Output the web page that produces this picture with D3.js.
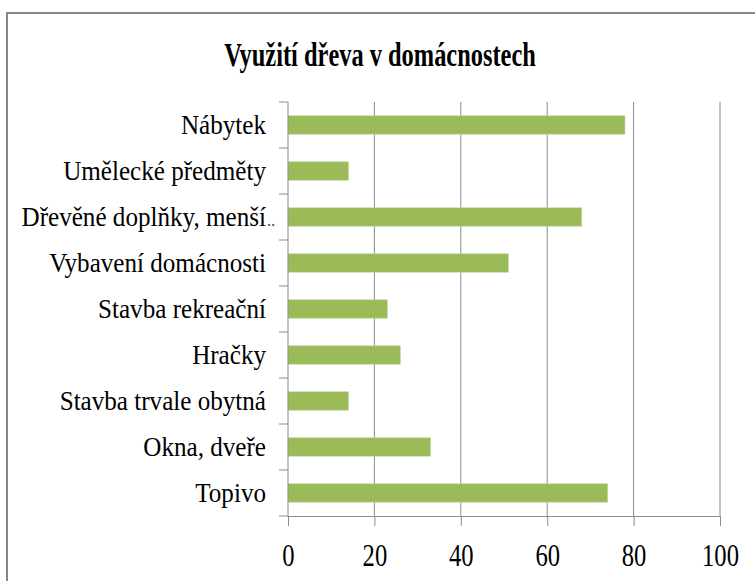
<!DOCTYPE html>
<html>
<head>
<meta charset="utf-8">
<script src="https://cdn.jsdelivr.net/npm/d3@7"></script>
<style>
    body { margin: 0; background: #fff; }
    svg { display: block; }
</style>
</head>
<body>
<svg id="chart" width="755" height="581"></svg>
<script>
// chart data
var title = "Využití dřeva v domácnostech";
var categories = ["Nábytek", "Umělecké předměty", "Dřevěné doplňky, menší…", "Vybavení domácnosti",
    "Stavba rekreační", "Hračky", "Stavba trvale obytná", "Okna, dveře", "Topivo"];
var values = [78, 14, 68, 51, 23, 26, 14, 33, 74];
var xTicks = [0, 20, 40, 60, 80, 100];

var serif = "'Liberation Serif', 'Times New Roman', Times, serif";

var svg = d3.select("#chart");

var plotLeft = 288,
    plotRight = 720,
    plotTop = 102,
    plotBottom = 516;

// outer frame
svg.append("path")
    .attr("d", "M7,581V13H755")
    .attr("fill", "none")
    .attr("stroke", "#878787")
    .attr("stroke-width", 2);

// title
svg.append("text")
    .attr("transform", "translate(380,66) scale(0.74,1)")
    .attr("text-anchor", "middle")
    .style("font-family", serif)
    .style("font-size", "33px")
    .style("font-weight", "bold")
    .text(title);

var x = d3.scaleLinear()
    .domain([0, 100])
    .range([plotLeft, plotRight]);

var y = d3.scaleBand()
    .domain(categories)
    .range([plotTop, plotBottom])
    .paddingInner(0.6)
    .paddingOuter(0.3);

// vertical gridlines
svg.append("g")
    .selectAll("line")
    .data(xTicks.slice(1))
    .enter()
    .append("line")
    .attr("x1", function (d) { return x(d); })
    .attr("x2", function (d) { return x(d); })
    .attr("y1", plotTop)
    .attr("y2", plotBottom)
    .attr("stroke", "#8c8c8c")
    .attr("stroke-width", 1);

// bars
svg.append("g")
    .selectAll("rect")
    .data(values)
    .enter()
    .append("rect")
    .attr("x", x(0))
    .attr("y", function (d, i) { return y(categories[i]); })
    .attr("width", function (d) { return x(d) - x(0); })
    .attr("height", y.bandwidth())
    .attr("fill", "#9bbb59")
    .attr("stroke", "#c3d69b")
    .attr("stroke-width", 0.6);

// x axis
var xAxis = d3.axisBottom(x)
    .tickValues(xTicks)
    .tickSize(10)
    .tickSizeOuter(0);

var gx = svg.append("g")
    .attr("transform", "translate(0," + plotBottom + ")")
    .call(xAxis);

gx.select(".domain").attr("stroke", "#8c8c8c");
gx.selectAll(".tick line").attr("stroke", "#8c8c8c");
gx.selectAll(".tick text")
    .attr("y", 0)
    .attr("dy", null)
    .attr("transform", "translate(0,50) scale(0.77,1)")
    .style("font-family", serif)
    .style("font-size", "32px")
    .attr("fill", "#000");

// y axis line and category boundary ticks
svg.append("line")
    .attr("x1", plotLeft)
    .attr("x2", plotLeft)
    .attr("y1", plotTop)
    .attr("y2", plotBottom)
    .attr("stroke", "#8c8c8c");

var boundaries = d3.range(categories.length + 1).map(function (i) {
    return y.range()[0] + i * y.step();
});

svg.append("g")
    .selectAll("line")
    .data(boundaries)
    .enter()
    .append("line")
    .attr("x1", plotLeft - 9)
    .attr("x2", plotLeft)
    .attr("y1", function (d) { return d; })
    .attr("y2", function (d) { return d; })
    .attr("stroke", "#8c8c8c");

// category labels
var labels = svg.append("g")
    .selectAll("g")
    .data(categories)
    .enter()
    .append("g")
    .attr("transform", function (d) {
        return "translate(266," + (y(d) + y.bandwidth() / 2 + 9) + ")";
    });

labels.append("text")
    .attr("text-anchor", "end")
    .attr("transform", "scale(0.93,1)")
    .style("font-family", serif)
    .style("font-size", "27px")
    .text(function (d) { return d.replace("…", ""); });

// truncated label gets its dots hanging past the edge
labels.filter(function (d) { return d.endsWith("…"); })
    .append("text")
    .attr("x", 1)
    .attr("transform", "scale(0.93,1)")
    .style("font-family", serif)
    .style("font-size", "18px")
    .attr("fill", "#555")
    .text("..");
</script>
</body>
</html>
